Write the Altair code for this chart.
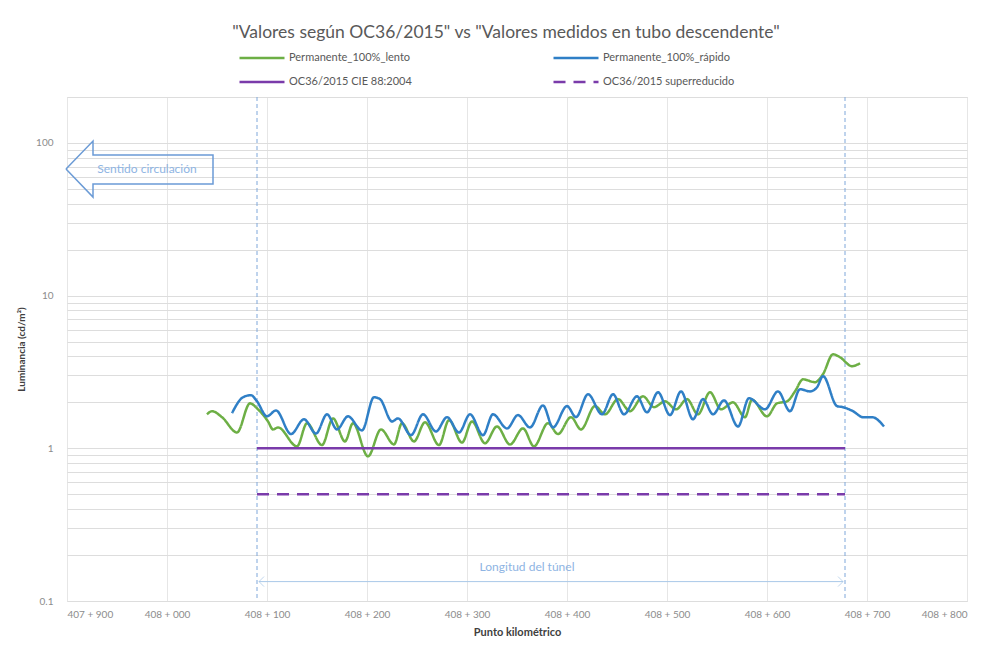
import altair as alt
import pandas as pd

# ---------------- data ----------------
title_text = '"Valores según OC36/2015" vs "Valores medidos en tubo descendente"'

S_LENTO = "Permanente_100%_lento"
S_RAPIDO = "Permanente_100%_rápido"
S_CIE = "OC36/2015 CIE 88:2004"
S_SUPER = "OC36/2015 superreducido"
series_names = [S_LENTO, S_RAPIDO, S_CIE, S_SUPER]
series_colors = ["#6DAF45", "#2F7FC6", "#7A3BAA", "#7A3BAA"]

# chainage in metres (407+900 = 407900) and luminance (cd/m2)
lento_km = [408040, 408045, 408055, 408070, 408083, 408091, 408101, 408106, 408111, 408130,
            408140, 408155, 408166, 408178, 408186, 408201, 408214, 408227, 408235, 408247,
            408258, 408272, 408282, 408295, 408305, 408318, 408330, 408343, 408356, 408367,
            408381, 408391, 408404, 408414, 408428, 408438, 408451, 408463, 408476, 408487,
            408498, 408509, 408520, 408531, 408543, 408554, 408566, 408578, 408585, 408600,
            408610, 408620, 408628, 408636, 408648, 408656, 408666, 408673, 408685, 408693]
lento_val = [1.67, 1.75, 1.60, 1.27, 1.97, 1.80, 1.50, 1.33, 1.37, 1.03,
             1.46, 1.05, 1.57, 1.11, 1.46, 0.886, 1.33, 1.06, 1.46, 1.11,
             1.48, 1.05, 1.53, 1.09, 1.50, 1.08, 1.39, 1.06, 1.35, 1.03,
             1.46, 1.24, 1.60, 1.33, 1.89, 1.67, 2.10, 1.75, 2.19, 1.86,
             2.03, 1.80, 2.10, 1.67, 2.33, 1.80, 2.00, 1.60, 2.08, 1.62,
             1.97, 2.03, 2.36, 2.83, 2.71, 3.06, 4.13, 3.95, 3.45, 3.61]

rapido_km = [408065, 408076, 408084, 408090, 408100, 408109, 408124, 408137, 408149, 408160,
             408170, 408181, 408195, 408207, 408213, 408225, 408231, 408244, 408256, 408269,
             408280, 408292, 408303, 408316, 408326, 408340, 408351, 408363, 408376, 408386,
             408400, 408409, 408421, 408435, 408446, 408457, 408470, 408480, 408491, 408503,
             408514, 408526, 408536, 408546, 408557, 408571, 408582, 408598, 408611, 408623,
             408633, 408643, 408650, 408656, 408670, 408676, 408686, 408696, 408705, 408717]
rapido_val = [1.70, 2.16, 2.23, 2.03, 1.62, 1.77, 1.24, 1.55, 1.25, 1.67,
              1.33, 1.62, 1.31, 2.16, 2.10, 1.50, 1.57, 1.22, 1.67, 1.29,
              1.60, 1.27, 1.67, 1.22, 1.67, 1.35, 1.65, 1.37, 1.91, 1.37,
              1.89, 1.60, 2.26, 1.67, 2.26, 1.67, 2.19, 1.72, 2.33, 1.65,
              2.36, 1.55, 2.10, 1.67, 2.06, 1.39, 2.13, 1.80, 2.36, 1.75,
              2.44, 2.36, 2.51, 2.97, 1.89, 1.86, 1.75, 1.60, 1.60, 1.39]

tunnel_km = [408090, 408678]          # tunnel portals
cie_level = [1.0, 1.0]
super_level = [0.5, 0.5]

x_ticks = [407900, 408000, 408100, 408200, 408300, 408400, 408500, 408600, 408700, 408800]
y_ticks = [0.1, 0.2, 0.3, 0.4, 0.5, 0.6, 0.7, 0.8, 0.9,
           1, 2, 3, 4, 5, 6, 7, 8, 9,
           10, 20, 30, 40, 50, 60, 70, 80, 90,
           100, 200]

# annotations ("Sentido circulación" block arrow outline, tunnel length arrow)
dir_arrow_km = [407899, 407926, 407926, 408046, 408046, 407926, 407926, 407899]
dir_arrow_val = [67.5, 103, 83.4, 83.4, 53.8, 53.8, 44.2, 67.5]
dir_label = ["Sentido circulación"]
dir_label_km = [407980]
dir_label_val = [67.5]

len_arrow_km = [408092, 408676]
len_arrow_val = [0.134, 0.134]
len_label = ["Longitud del túnel"]
len_label_km = [408360]
len_label_val = [0.168]

# ---------------- tables ----------------
rows = []
for k, v in zip(lento_km, lento_val):
    rows.append({"km": k, "val": v, "serie": S_LENTO})
for k, v in zip(rapido_km, rapido_val):
    rows.append({"km": k, "val": v, "serie": S_RAPIDO})
for k, v in zip(tunnel_km, cie_level):
    rows.append({"km": k, "val": v, "serie": S_CIE})
for k, v in zip(tunnel_km, super_level):
    rows.append({"km": k, "val": v, "serie": S_SUPER})
lines_df = pd.DataFrame(rows)

tunnel_df = pd.DataFrame({"km": tunnel_km})
dir_df = pd.DataFrame({"km": dir_arrow_km, "val": dir_arrow_val, "i": list(range(len(dir_arrow_km)))})
dir_lab_df = pd.DataFrame({"km": dir_label_km, "val": dir_label_val, "t": dir_label})
len_df = pd.DataFrame({"km": len_arrow_km, "val": len_arrow_val})
len_left_df = len_df.iloc[[0]]
len_right_df = len_df.iloc[[1]]
len_lab_df = pd.DataFrame({"km": len_label_km, "val": len_label_val, "t": len_label})
title_df = pd.DataFrame({"t": [title_text]})

FONT = "Lato"
ANN = "#8EB4E3"

x_scale = alt.Scale(domain=[407900, 408800], nice=False, zero=False)
y_scale = alt.Scale(type="log", domain=[0.1, 200], nice=False)

x_enc = alt.X("km:Q", scale=x_scale, axis=alt.Axis(
    values=x_ticks, title="Punto kilométrico",
    labelExpr="floor(datum.value/1000) + ' + ' + format(datum.value % 1000, '03d')",
    ticks=False, domain=False, labelPadding=8, titlePadding=7,
    labelFontSize=10, labelColor="#8C8C8C", titleFontSize=11, titleColor="#404040",
    titleFontWeight="bold", gridColor="#E6E6E6", labelFont=FONT, titleFont=FONT))
y_enc = alt.Y("val:Q", scale=y_scale, axis=alt.Axis(
    values=y_ticks, title="Luminancia (cd/m²)",
    labelExpr="indexof([0.1, 1, 10, 100], datum.value) >= 0 ? format(datum.value, '~g') : ''",
    ticks=False, domain=False, labelPadding=14, titlePadding=9,
    labelFontSize=10, labelColor="#8C8C8C", titleFontSize=10, titleColor="#404040",
    titleFontWeight="bold", gridColor="#DDDDDD", labelFont=FONT, titleFont=FONT))

legend = alt.Legend(
    orient="none", legendX=201, legendY=-48, columns=2, direction="horizontal", title=None,
    symbolType="M-5,0H1", symbolSize=225, symbolStrokeWidth=2.5,
    labelFont=FONT, labelFontSize=11, labelColor="#595959", labelOffset=3,
    columnPadding=136, rowPadding=10, padding=0, labelLimit=300)

lines = alt.Chart(lines_df).mark_line(interpolate="monotone").encode(
    x=x_enc, y=y_enc,
    color=alt.Color("serie:N", scale=alt.Scale(domain=series_names, range=series_colors),
                    legend=legend, sort=series_names),
    strokeDash=alt.StrokeDash("serie:N", scale=alt.Scale(domain=series_names,
                              range=[[1, 0], [1, 0], [1, 0], [12, 8]]),
                              legend=legend, sort=series_names),
    strokeWidth=alt.StrokeWidth("serie:N", scale=alt.Scale(domain=series_names,
                                range=[2.5, 2.5, 3.5, 3.5]), legend=None),
)

portals = alt.Chart(tunnel_df).mark_rule(color="#7FA7DA", strokeWidth=1, strokeDash=[4, 3]).encode(
    x="km:Q")

dir_arrow = alt.Chart(dir_df).mark_line(color="#6B9BD6", strokeWidth=1.5).encode(
    x="km:Q", y="val:Q", order="i:Q")
dir_text = alt.Chart(dir_lab_df).mark_text(font=FONT, fontSize=12, color=ANN).encode(
    x="km:Q", y="val:Q", text="t:N")

len_line = alt.Chart(len_df).mark_line(color="#A9C8E8", strokeWidth=1).encode(x="km:Q", y="val:Q")
len_head_l = alt.Chart(len_left_df).mark_point(shape="M1,-1L0,0L1,1", size=100, filled=False,
                                              color="#A9C8E8", strokeWidth=1).encode(x="km:Q", y="val:Q")
len_head_r = alt.Chart(len_right_df).mark_point(shape="M-1,-1L0,0L-1,1", size=100, filled=False,
                                               color="#A9C8E8", strokeWidth=1).encode(x="km:Q", y="val:Q")
len_text = alt.Chart(len_lab_df).mark_text(font=FONT, fontSize=12, color=ANN).encode(
    x="km:Q", y="val:Q", text="t:N")

title = alt.Chart(title_df).mark_text(font=FONT, fontSize=17.5, color="#595959",
                                      align="center", baseline="middle").encode(
    x=alt.value(439), y=alt.value(-64), text="t:N")

chart = alt.layer(
    portals, lines, dir_arrow, dir_text, len_line, len_head_l, len_head_r, len_text, title
).properties(
    width=900, height=504,
    autosize=alt.AutoSizeParams(type="none"),
    padding={"left": 59, "top": 89, "right": 13, "bottom": 39},
).configure_view(stroke="#D9D9D9").configure(background="white")

chart.save("out.html", embed_options={"renderer": "svg", "actions": False})
